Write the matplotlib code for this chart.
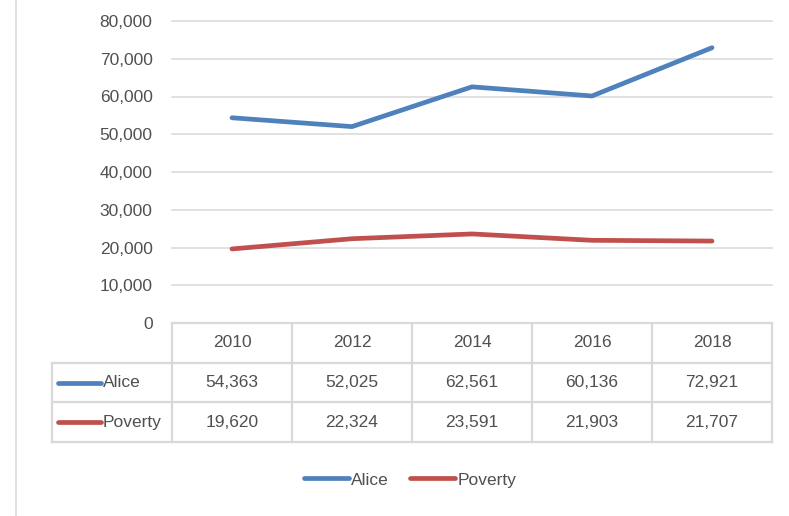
import matplotlib
matplotlib.use('Agg')
from matplotlib import pyplot as plt
from matplotlib.lines import Line2D
from matplotlib.ticker import FuncFormatter

plt.rcParams['font.family'] = ['Liberation Sans', 'DejaVu Sans']

years = ['2010', '2012', '2014', '2016', '2018']
alice = [54363, 52025, 62561, 60136, 72921]
poverty = [19620, 22324, 23591, 21903, 21707]
series_names = ['Alice', 'Poverty']

blue = '#4F81BD'
red = '#C0504D'
grid_col = '#D9D9D9'
text_col = '#505050'

W, H = 789, 516
fig = plt.figure(figsize=(W / 100, H / 100), dpi=100)

# left edge of the chart frame
fig.add_artist(Line2D([16 / W, 16 / W], [0, 1], color=grid_col, lw=1.2))

# plot area
ax = fig.add_axes([172 / W, 1 - 323 / H, 600 / W, 302 / H])
x = list(range(len(years)))
ax.plot(x, alice, color=blue, lw=3.4, solid_capstyle='round', label='Alice')
ax.plot(x, poverty, color=red, lw=3.4, solid_capstyle='round', label='Poverty')
ax.set_xlim(-0.5, len(years) - 0.5)
ax.set_ylim(0, 80000)
ax.set_yticks(range(0, 80001, 10000))
ax.yaxis.set_major_formatter(FuncFormatter(lambda v, p: '{:,.0f}'.format(v)))
ax.tick_params(axis='y', length=0, pad=14, labelsize=12.5, labelcolor=text_col)
ax.set_xticks([])
ax.grid(axis='y', color=grid_col, lw=1.1)
for gl in ax.get_ygridlines():
    gl.set_clip_on(False)
ax.set_axisbelow(True)
for s in ax.spines.values():
    s.set_visible(False)

# data table under the plot
tb = fig.add_axes([172 / W, 1 - 442 / H, 600 / W, 119 / H])
tb.set_xlim(-0.5, len(years) - 0.5)
tb.set_ylim(3, 0)
tb.axis('off')
n = len(years)
kw = dict(color=grid_col, lw=1.6, clip_on=False)
tb.plot([-0.5, n - 0.5], [0, 0], **kw)
for r in (1, 2, 3):
    tb.plot([-1.5, n - 0.5], [r, r], **kw)
for c in range(n + 1):
    tb.plot([c - 0.5, c - 0.5], [0, 3], **kw)
tb.plot([-1.5, -1.5], [1, 3], **kw)

fs = 12.5
for i, yr in enumerate(years):
    tb.text(i, 0.5, yr, ha='center', va='center', fontsize=fs, color=text_col)
    tb.text(i, 1.5, '{:,}'.format(alice[i]), ha='center', va='center', fontsize=fs, color=text_col)
    tb.text(i, 2.5, '{:,}'.format(poverty[i]), ha='center', va='center', fontsize=fs, color=text_col)

for r, (name, col) in enumerate(zip(series_names, [blue, red])):
    yy = 1.5 + r
    tb.plot([-1.45, -1.09], [yy, yy], color=col, lw=3.4, solid_capstyle='round', clip_on=False)
    tb.text(-1.075, yy, name, ha='left', va='center', fontsize=fs, color=text_col, clip_on=False)

# legend
leg = fig.legend(loc='center', bbox_to_anchor=(410 / W, 1 - 480 / H), ncol=2, frameon=False,
                 fontsize=fs, handlelength=2.6, handletextpad=0.15, columnspacing=1.2)
for t in leg.get_texts():
    t.set_color(text_col)

fig.savefig('out.png', dpi=100)
